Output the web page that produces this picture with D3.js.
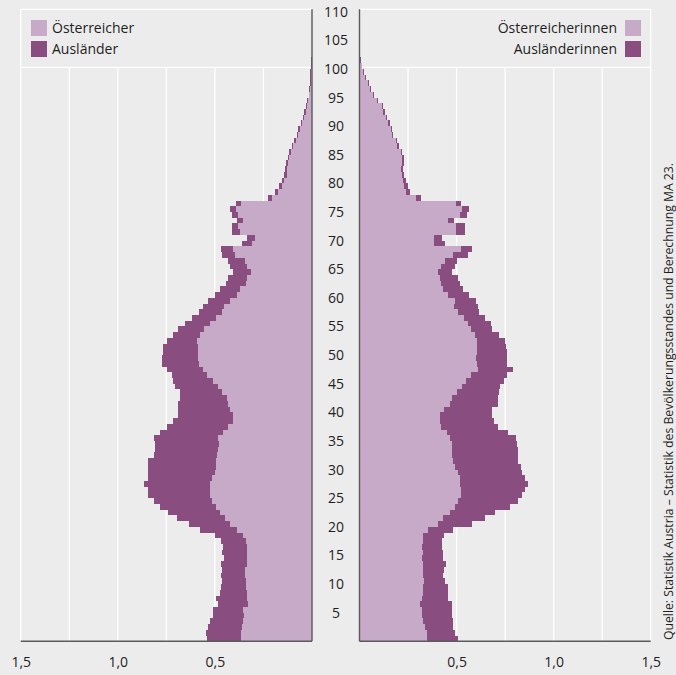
<!DOCTYPE html>
<html>
<head>
<meta charset="utf-8">
<script src="https://cdn.jsdelivr.net/npm/d3@7"></script>
<style>
  body { margin: 0; background: #ececec; }
  svg { display: block; font-family: "Open Sans", sans-serif; }
</style>
</head>
<body>
<div id="pyr"></div>
<script>
// DATA  (Anteil in %, je Altersjahr 0..110)

const ages = d3.range(0, 111);

const maennerAT = [
  .366, .367, .359, .354, .350, .354, .328, .333, .336, .340,
  .340, .345, .345, .336, .333, .336, .333, .340, .354, .388,
  .422, .448, .474, .494, .516, .525, .525, .525, .516, .499,
  .494, .494, .488, .482, .477, .482, .457, .431, .405, .408,
  .422, .431, .439, .465, .482, .508, .542, .560, .580, .585,
  .585, .585, .591, .577, .556, .525, .494, .465, .453, .422,
  .388, .371, .341, .336, .316, .336, .345, .396, .405, .307,
  .294, .371, .379, .353, .379, .391, .367, .208, .177, .156,
  .144, .130, .127, .125, .117, .108, .096, .084, .071, .062,
  .051, .040, .032, .026, .019, .014, .009, .007, .005, .004,
  .002, .001, .001, 0, 0, 0, 0, 0, 0, 0, 0
];
const maennerAusl = [
  .177, .179, .175, .171, .158, .154, .154, .161, .137, .130,
  .125, .125, .120, .134, .119, .129, .124, .130, .146, .189,
  .210, .249, .266, .288, .297, .318, .318, .339, .327, .343,
  .349, .349, .326, .326, .331, .330, .326, .317, .309, .280,
  .269, .258, .240, .215, .223, .206, .180, .189, .194, .185,
  .180, .180, .158, .141, .132, .129, .125, .115, .110, .112,
  .112, .103, .101, .095, .090, .086, .086, .069, .065, .051,
  .043, .043, .034, .031, .034, .031, .024, .021, .014, .012,
  .012, .012, .012, .010, .008, .009, .008, .009, .008, .009,
  .007, .007, .007, .005, .005, .004, .004, .004, .004, .004,
  .005, .003, .001, 0, 0, 0, 0, 0, 0, 0, 0
];
const frauenAT = [
  .346, .346, .337, .329, .320, .320, .312, .320, .325, .329,
  .332, .329, .325, .329, .320, .325, .320, .325, .329, .354,
  .403, .432, .466, .492, .509, .523, .523, .518, .518, .506,
  .492, .480, .478, .478, .475, .466, .449, .420, .415, .415,
  .437, .466, .475, .500, .526, .548, .574, .609, .603, .598,
  .603, .603, .603, .595, .574, .560, .540, .509, .488, .492,
  .457, .432, .420, .415, .403, .420, .440, .483, .522, .385,
  .385, .497, .497, .454, .518, .529, .497, .291, .240, .231,
  .222, .217, .214, .217, .217, .212, .195, .186, .166, .162,
  .149, .135, .123, .114, .089, .071, .054, .042, .028, .018,
  .011, .004, .002, .002, .002, .002, .002, .002, .002, .002, .002
];
const frauenAusl = [
  .163, .146, .146, .155, .159, .155, .163, .137, .132, .129,
  .108, .103, .111, .115, .112, .106, .103, .101, .108, .129,
  .175, .215, .232, .283, .309, .313, .330, .351, .335, .330,
  .340, .338, .340, .337, .335, .339, .317, .295, .280, .270,
  .244, .248, .237, .218, .200, .196, .188, .183, .159, .163,
  .158, .154, .149, .125, .110, .117, .107, .107, .124, .107,
  .108, .103, .098, .094, .072, .072, .060, .074, .055, .055,
  .041, .046, .046, .034, .034, .036, .026, .026, .021, .018,
  .017, .013, .012, .013, .012, .008, .007, .008, .007, .007,
  .009, .007, .009, .005, .005, .005, .004, .005, .005, .004,
  .003, .004, .003, .003, .003, .003, .003, .003, .003, .003, .003
];

const xTicks = [0.5, 1.0, 1.5];
const gridTicks = [0.25, 0.5, 0.75, 1.0, 1.25, 1.5];
const ageTicks = d3.range(5, 111, 5);

const legLeft = ["Österreicher", "Ausländer"];
const legRight = ["Österreicherinnen", "Ausländerinnen"];
const quelle = "Quelle: Statistik Austria – Statistik des Bevölkerungsstandes und Berechnung MA 23.";

// LAYOUT

const xSize = 676;
const ySize = 675;
const yTop = 9.3;
const yLeg = 67.3;
const yBase = 641.3;
const rowH = 5.724;

const colLight = "#c7aac7";
const colDark = "#8a4d80";
const colGrid = "#ffffff";
const colAxis = "#5a5a5a";
const colText = "#1e1e1e";

const de = d3.formatLocale({ decimal: ",", thousands: ".", grouping: [3], currency: ["", " €"] });
const fmt = de.format(".1f");

const xL = d3.scaleLinear().domain([0, 1.5]).range([312, 20.7]);
const xR = d3.scaleLinear().domain([0, 1.5]).range([359.5, 650.7]);
const y = d3.scaleLinear().domain([0, 111]).range([yBase, yBase - 111 * rowH]);

const svg = d3
  .select("#pyr")
  .append("svg")
  .attr("width", xSize)
  .attr("height", ySize);

svg.append("rect").attr("width", xSize).attr("height", ySize).attr("fill", "#ececec");

// GRID

const grid = svg.append("g").attr("class", "grid");

[xL, xR].forEach((sc) => {
  grid
    .selectAll(null)
    .data(gridTicks)
    .join("line")
    .attr("x1", (d) => sc(d))
    .attr("x2", (d) => sc(d))
    .attr("y1", (d) => (d === 1.5 ? yTop : yLeg))
    .attr("y2", yBase)
    .attr("stroke", colGrid)
    .attr("stroke-width", 1.3);

  // Rahmen oben + Trennlinie unter der Legende
  [yTop, yLeg].forEach((yy) => {
    grid
      .append("line")
      .attr("x1", sc(0))
      .attr("x2", sc(1.5))
      .attr("y1", yy)
      .attr("y2", yy)
      .attr("stroke", colGrid)
      .attr("stroke-width", 1.3);
  });
});

// BARS

const bars = svg.append("g").attr("class", "bars").attr("shape-rendering", "crispEdges");

function drawSide(sc, inl, ausl) {
  const g = bars.append("g");
  g.selectAll(".inl")
    .data(ages)
    .join("rect")
    .attr("class", "inl")
    .attr("x", (a) => Math.min(sc(0), sc(inl[a])))
    .attr("width", (a) => Math.abs(sc(inl[a]) - sc(0)))
    .attr("y", (a) => y(a + 1))
    .attr("height", (a) => y(a) - y(a + 1))
    .attr("fill", colLight);

  g.selectAll(".ausl")
    .data(ages)
    .join("rect")
    .attr("class", "ausl")
    .attr("x", (a) => Math.min(sc(inl[a]), sc(inl[a] + ausl[a])))
    .attr("width", (a) => Math.abs(sc(inl[a] + ausl[a]) - sc(inl[a])))
    .attr("y", (a) => y(a + 1))
    .attr("height", (a) => y(a) - y(a + 1))
    .attr("fill", colDark);
}

drawSide(xL, maennerAT, maennerAusl);
drawSide(xR, frauenAT, frauenAusl);

// AXES

[xL, xR].forEach((sc) => {
  svg
    .append("line")
    .attr("x1", sc(0))
    .attr("x2", sc(0))
    .attr("y1", yTop)
    .attr("y2", yBase)
    .attr("stroke", colAxis)
    .attr("stroke-width", 1.4);

  svg
    .append("line")
    .attr("x1", sc(0))
    .attr("x2", sc(1.5))
    .attr("y1", yBase)
    .attr("y2", yBase)
    .attr("stroke", colAxis)
    .attr("stroke-width", 1.6);

  const ax = svg
    .append("g")
    .attr("transform", "translate(0," + yBase + ")")
    .call(d3.axisBottom(sc).tickValues(xTicks).tickSize(0).tickPadding(16).tickFormat(fmt));
  ax.select(".domain").remove();
  ax.selectAll("text").attr("fill", colText).style("font-size", "14px").style("font-family", "Open Sans");
});

// Altersachse in der Mitte
const ageAx = svg
  .append("g")
  .attr("transform", "translate(336,0)")
  .call(d3.axisRight(y).tickValues(ageTicks).tickSize(0).tickPadding(0));
ageAx.select(".domain").remove();
ageAx
  .selectAll("text")
  .attr("text-anchor", "middle")
  .attr("fill", colText)
  .style("font-size", "14px")
  .style("font-family", "Open Sans");

// LEGEND

const legL = svg.append("g").attr("transform", "translate(31,20)");
legL
  .selectAll("rect")
  .data(legLeft)
  .join("rect")
  .attr("x", 0)
  .attr("y", (d, i) => i * 21)
  .attr("width", 16)
  .attr("height", 16)
  .attr("fill", (d, i) => (i === 0 ? colLight : colDark));
legL
  .selectAll("text")
  .data(legLeft)
  .join("text")
  .attr("x", 21)
  .attr("y", (d, i) => i * 21 + 8)
  .attr("dy", "0.35em")
  .attr("fill", colText)
  .style("font-size", "14px")
  .text((d) => d);

const legR = svg.append("g").attr("transform", "translate(625,20)");
legR
  .selectAll("rect")
  .data(legRight)
  .join("rect")
  .attr("x", 0)
  .attr("y", (d, i) => i * 21)
  .attr("width", 16)
  .attr("height", 16)
  .attr("fill", (d, i) => (i === 0 ? colLight : colDark));
legR
  .selectAll("text")
  .data(legRight)
  .join("text")
  .attr("x", -8)
  .attr("y", (d, i) => i * 21 + 8)
  .attr("dy", "0.35em")
  .attr("text-anchor", "end")
  .attr("fill", colText)
  .style("font-size", "14px")
  .text((d) => d);

// QUELLE

svg
  .append("text")
  .attr("transform", "translate(668,640) rotate(-90)")
  .attr("dy", "0.35em")
  .attr("fill", colText)
  .attr("textLength", 477)
  .attr("lengthAdjust", "spacingAndGlyphs")
  .style("font-size", "13px")
  .text(quelle);
</script>
</body>
</html>
